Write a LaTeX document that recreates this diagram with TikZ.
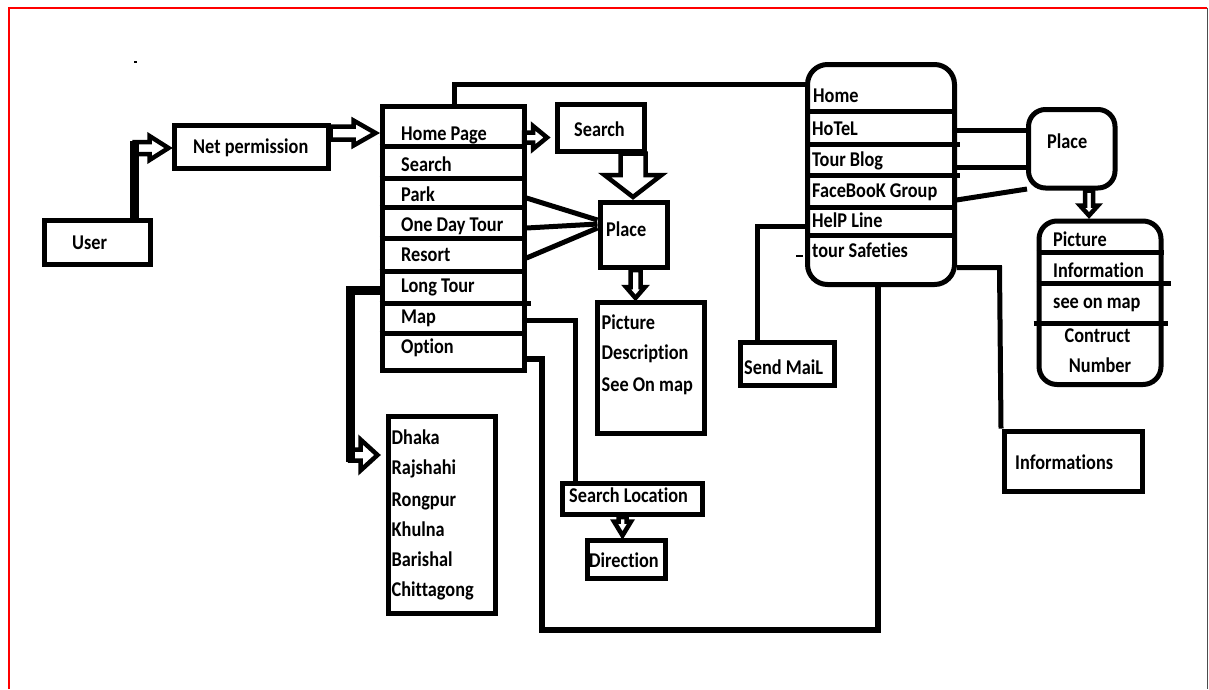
\documentclass[tikz,border=0pt]{standalone}
\usepackage{fontspec}
\setmainfont{Carlito}[FakeStretch=0.87, Ligatures=NoCommon]
\usetikzlibrary{calc}

\tikzset{
  box/.style={draw, line width=5pt, inner sep=0pt},
  rbox/.style={box, rounded corners=#1},
  txt/.style={anchor=west, inner sep=0pt, text height=14pt, text depth=0pt,
    font=\fontsize{21}{25}\selectfont\bfseries},
  ctxt/.style={txt, anchor=center},
  wire/.style={line width=5pt},
  sep/.style={line width=5pt},
  % hollow block arrow: shaft half width, head half width, head length
  barrow/.style n args={3}{line width=4.5pt, to path={
    ($(\tikztostart)!#1!90:(\tikztotarget)$) --
    ($(\tikztotarget)!#3!(\tikztostart)!#1!-90:(\tikztostart)$) --
    ($(\tikztotarget)!#3!(\tikztostart)!#2!-90:(\tikztostart)$) --
    (\tikztotarget) --
    ($(\tikztotarget)!#3!(\tikztostart)!#2!90:(\tikztostart)$) --
    ($(\tikztotarget)!#3!(\tikztostart)!#1!90:(\tikztostart)$) --
    ($(\tikztostart)!#1!-90:(\tikztotarget)$) -- cycle}}
}

\begin{document}
\begin{tikzpicture}[x=1pt, y=-1pt]
\useasboundingbox (0,0) rectangle (1209,689);
\fill[white] (0,0) rectangle (1209,689);

% page frame
\draw[red, line width=2pt] (8.5,689) -- (8.5,7.5) -- (1207,7.5);
\draw[black!70, line width=1pt] (1207,7.5) -- (1207,689);
\fill (134,60.5) rectangle (136.5,63);

% ---------- left side ----------
\node[box, minimum width=106.5pt, minimum height=44pt] (user) at (97.25,242.5) {};
\node[txt] (usertxt) at (72,242.5) {User};

\node[box, minimum width=154pt, minimum height=43.5pt] (net) at (251,146.75) {};
\node[txt] (nettxt) at (193,146) {Net permission};

% main menu
\node[box, minimum width=142pt, minimum height=264pt] (menu) at (453,238) {};
\node[txt] (homepage) at (401,133.3) {Home Page};
\node[txt] (msearch)  at (401,164)   {Search};
\node[txt] (park)     at (401,194)   {Park};
\node[txt] (oneday)   at (401,224)   {One Day Tour};
\node[txt] (resort)   at (401,254)   {Resort};
\node[txt] (longtour) at (401,285.5) {Long Tour};
\node[txt] (map)      at (401,316)   {Map};
\node[txt] (option)   at (401,346)   {Option};
\foreach \yy in {146,178,207,238,271,333}
  \draw[sep] (menu.west |- 0,\yy) -- (menu.east |- 0,\yy);
\draw[sep] (menu.west |- 0,303) -- ([xshift=4pt]menu.east |- 0,303);

% search and place
\node[box, minimum width=87pt, minimum height=46.5pt] (search) at (601,127.75) {};
\node[txt] (searchtxt) at (574,129.5) {Search};

\node[box, minimum width=67pt, minimum height=65pt] (placem) at (633.5,235) {};
\node[txt] (placemtxt) at (606,229.5) {Place};

\node[box, minimum width=107.5pt, minimum height=130.5pt] (picture) at (650.75,367.75) {};
\node[txt] (pic1) at (601.5,322.5) {Picture};
\node[txt] (pic2) at (601.5,352.5) {Description};
\node[txt] (pic3) at (601.5,384.5) {See On map};

% cities
\node[box, minimum width=107pt, minimum height=197pt] (cities) at (441.5,514.5) {};
\node[txt] (c1) at (391.5,437.5) {Dhaka};
\node[txt] (c2) at (391.5,467.5) {Rajshahi};
\node[txt] (c3) at (391.5,499.5) {Rongpur};
\node[txt] (c4) at (391.5,529.5) {Khulna};
\node[txt] (c5) at (391.5,559.5) {Barishal};
\node[txt] (c6) at (391.5,589.5) {Chittagong};

% map search
\node[box, minimum width=139.5pt, minimum height=31pt] (searchloc) at (632.25,499) {};
\node[txt] (searchloctxt) at (569,495.5) {Search Location};
\node[box, minimum width=78pt, minimum height=38pt] (direction) at (626,559) {};
\node[txt] (directiontxt) at (589,560) {Direction};

% ---------- right side ----------
\node[rbox=20pt, minimum width=147pt, minimum height=220pt] (home) at (881,174.5) {};
\node[txt] (hhome)   at (813,95.5)  {Home};
\node[txt] (hotel)   at (812,128)   {HoTeL};
\node[txt] (blog)    at (812,159.5) {Tour Blog};
\node[txt] (fb)      at (812,190.5) {FaceBooK Group};
\node[txt] (help)    at (812,220.5) {HelP Line};
\node[txt] (safety)  at (812,250.5) {tour Safeties};
\foreach \yy in {111,207.5,235.5}
  \draw[sep] (home.west |- 0,\yy) -- (home.east |- 0,\yy);
\foreach \yy in {144.5,175}
  \draw[sep] (home.west |- 0,\yy) -- ([xshift=3pt]home.east |- 0,\yy);
\draw[line width=1.5pt] (796,256) -- (803,256);

\node[rbox=17pt, minimum width=86.5pt, minimum height=78.5pt] (placer) at (1071.75,148.75) {};
\node[txt] (placertxt) at (1047,141.5) {Place};

\node[rbox=18pt, minimum width=122pt, minimum height=163.5pt] (info) at (1100,302.75) {};
\node[txt] (i1) at (1053,239.5) {Picture};
\node[txt] (i2) at (1053,270.5) {Information};
\node[txt] (i3) at (1053,301)   {see on map};
\node[ctxt] (i4) at (1097.5,335.5) {Contruct};
\node[ctxt] (i5) at (1100,365.5)   {Number};
\draw[sep] (info.west |- 0,252.5) -- (info.east |- 0,252.5);
\draw[sep] (info.west |- 0,283) -- ([xshift=7pt]info.east |- 0,283);
\draw[sep] ([xshift=-3pt]info.west |- 0,323) -- ([xshift=4pt]info.east |- 0,323);

\node[box, minimum width=94pt, minimum height=42.5pt] (sendmail) at (787.5,363.75) {};
\node[txt] (sendmailtxt) at (744,367.5) {Send MaiL};

\node[box, minimum width=138pt, minimum height=60pt] (infos) at (1073.5,461) {};
\node[txt] (infostxt) at (1015,462.5) {Informations};

% ---------- connectors ----------
\coordinate (ucorner) at (134.5,148);
\draw[line width=8.5pt] (user.north -| ucorner) -- ([yshift=7pt]ucorner);
\draw[barrow={6pt}{12pt}{19pt}] (ucorner) to ([xshift=-3pt]net.west |- ucorner);

\coordinate (nout) at (328,133);
\draw[barrow={6.5pt}{12.5pt}{22pt}] (net.east |- nout) to ([xshift=-4pt]menu.west |- nout);

\coordinate (hout) at (524,137.5);
\draw[barrow={5pt}{11.5pt}{14pt}] (hout) to ([xshift=-8pt]search.west |- hout);

\coordinate (sdown) at (633,151);
\draw[barrow={12.5pt}{28.5pt}{22pt}] (search.south -| sdown) to ([yshift=3pt]placem.north -| sdown);

\coordinate (pdown) at (635.5,267);
\draw[barrow={5pt}{9.5pt}{11pt}] (placem.south -| pdown) to ([yshift=2pt]picture.north -| pdown);

\draw[wire] ([yshift=-4pt]park.east -| menu.east) -- ([yshift=15pt]placem.west);
\draw[wire] ([yshift=-4pt]oneday.east -| menu.east) -- ([yshift=11pt]placem.west);
\draw[wire] ([yshift=-4pt]resort.east -| menu.east) -- ([yshift=7pt]placem.west);

% top link from the menu to the home box
\draw[wire] (menu.north -| 454.5,0) -- (454.5,84) -- (home.west |- 0,84);

% long tour branch
\coordinate (ltcorner) at (350,290.5);
\coordinate (ltarrow) at (350,455);
\draw[line width=9pt] (menu.west |- ltcorner) -- (ltcorner) -- ([yshift=-7pt]ltarrow);
\draw[barrow={5.5pt}{15.5pt}{17pt}] (ltarrow) to ([xshift=-8pt]cities.west |- ltarrow);

% map branch
\coordinate (mapcorner) at (575,320.5);
\draw[wire] (menu.east |- mapcorner) -- (mapcorner) -- (searchloc.north -| mapcorner);
\coordinate (sldown) at (622.5,514.5);
\draw[barrow={4pt}{8.5pt}{14pt}] (searchloc.south -| sldown) to ([yshift=2pt]direction.north -| sldown);

% option loop back to the home box
\coordinate (optcorner) at (541.5,358.5);
\coordinate (loopl) at (541.5,630);
\coordinate (loopr) at (878,630);
\draw[line width=6pt] (menu.east |- optcorner) -- (optcorner) -- (loopl) -- (loopr) -- (home.south -| loopr);

% home box branches
\coordinate (helpcorner) at (757.5,226.5);
\draw[wire] ([xshift=4pt]home.west |- helpcorner) -- (helpcorner) -- (sendmail.north -| helpcorner);

\draw[wire] (home.east |- 0,130) -- ([yshift=18.75pt]placer.west);
\draw[wire] (home.east |- 0,167.5) -- ([yshift=-18.75pt]placer.west);
\draw[wire] (956.5,200) -- ([xshift=1pt,yshift=1.5pt]placer.south west);

\coordinate (pldown) at (1089,188);
\draw[barrow={4pt}{9pt}{10pt}] (placer.south -| pldown) to ([yshift=3pt]info.north -| pldown);

\coordinate (safecorner) at (999.5,267.5);
\draw[wire] (home.east |- safecorner) -- (safecorner) -- ([xshift=-1pt]infos.north west);
\end{tikzpicture}
\end{document}
